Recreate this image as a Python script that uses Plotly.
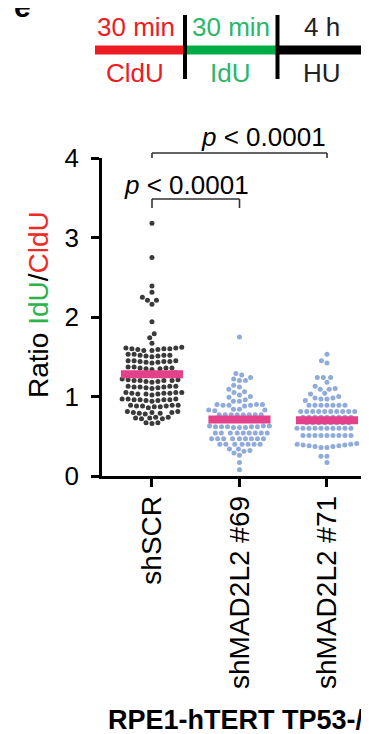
import math
import plotly.graph_objects as go

# ---------------- data ----------------
categories = ["shSCR", "shMAD2L2 #69", "shMAD2L2 #71"]

shSCR = [3.18, 2.75, 2.39, 2.31, 2.25, 2.21, 2.21, 2.16, 1.94, 1.79, 1.74, 1.67, 1.62,
         1.61, 1.60, 1.60, 1.59, 1.58, 1.60, 1.61, 1.59, 1.58,
         1.53, 1.52, 1.51, 1.52, 1.53, 1.51, 1.52, 1.50,
         1.45, 1.44, 1.43, 1.44, 1.45, 1.43, 1.44, 1.42, 1.45,
         1.37, 1.36, 1.35, 1.36, 1.37, 1.35, 1.36, 1.34,
         1.29, 1.28, 1.27, 1.28, 1.30, 1.26, 1.28, 1.29,
         1.21, 1.20, 1.19, 1.20, 1.21, 1.19, 1.20, 1.18, 1.22, 1.20,
         1.13, 1.12, 1.11, 1.12, 1.13, 1.11, 1.12, 1.10, 1.13,
         1.05, 1.04, 1.03, 1.04, 1.05, 1.03, 1.04, 1.02, 1.05, 1.03,
         0.97, 0.96, 0.95, 0.96, 0.97, 0.95, 0.96, 0.94, 0.97, 0.96,
         0.89, 0.88, 0.87, 0.88, 0.89, 0.87, 0.88, 0.86, 0.89,
         0.81, 0.80, 0.79, 0.80, 0.81, 0.79, 0.80, 0.78,
         0.74, 0.73, 0.72, 0.73, 0.74, 0.72,
         0.67, 0.67, 0.66]

shMAD2L2_69 = [1.75,
               1.29, 1.27, 1.24, 1.22, 1.20, 1.20,
               1.14, 1.12, 1.09, 1.06, 1.05,
               1.02, 1.00, 0.99, 0.96, 0.94, 0.94,
               0.90, 0.90, 0.90, 0.89, 0.89, 0.89, 0.88,
               0.84, 0.83, 0.83, 0.82, 0.84,
               0.77, 0.77, 0.77, 0.77, 0.77, 0.77, 0.77, 0.77,
               0.70, 0.70, 0.70, 0.70, 0.70, 0.70, 0.70, 0.70,
               0.63, 0.62, 0.62, 0.61, 0.61, 0.62, 0.62, 0.63, 0.63, 0.62, 0.61,
               0.54, 0.54, 0.54, 0.54, 0.54, 0.54, 0.54, 0.54, 0.54,
               0.47, 0.47, 0.47, 0.47, 0.47, 0.47, 0.47, 0.47, 0.47,
               0.40, 0.40, 0.40, 0.40, 0.40, 0.40, 0.40,
               0.34, 0.31, 0.29, 0.32, 0.34,
               0.26, 0.17, 0.08]

shMAD2L2_71 = [1.53, 1.45, 1.42,
               1.24, 1.24, 1.24, 1.18,
               1.13, 1.10, 1.09, 1.09, 1.04,
               1.03, 1.00, 0.98, 0.98, 0.97, 0.97, 0.95,
               0.89, 0.89, 0.89, 0.89, 0.89, 0.89, 0.89,
               0.81, 0.81, 0.81, 0.81, 0.81, 0.81, 0.81, 0.81, 0.81, 0.81,
               0.74, 0.74, 0.74, 0.74, 0.74, 0.74, 0.74, 0.74, 0.74,
               0.67, 0.67, 0.67, 0.67, 0.67, 0.67, 0.67, 0.67,
               0.60, 0.60, 0.60, 0.60, 0.60, 0.60, 0.60, 0.60, 0.60, 0.60,
               0.51, 0.51, 0.51, 0.51, 0.51, 0.51, 0.51, 0.51, 0.51,
               0.41, 0.40, 0.39, 0.38, 0.37, 0.36, 0.36, 0.37, 0.38, 0.39, 0.40,
               0.25, 0.25, 0.17]

means = [1.28, 0.71, 0.70]
group_values = [shSCR, shMAD2L2_69, shMAD2L2_71]
dot_colors = ["#3a3a3a", "#8fabdb", "#8fabdb"]
y_ticks = [0, 1, 2, 3, 4]

# ---------------- geometry (window pixels; page body has an 8px margin) ----------------
OFF = 8
W, H = 369, 734
L, R, T, B = 94, 8, 150, 266
PW, PH = W - L - R, H - T - B
YMAX = 4.0
X0 = -0.571
X1 = X0 + PW / 87.5
px_per_y = PH / YMAX
px_per_x = PW / (X1 - X0)


def px(xw):
    return (xw - OFF - L) / PW


def py(yw):
    return (H - B - (yw - OFF)) / PH


def swarm(vals, d=6.0):
    ys = [v * px_per_y for v in vals]
    order = sorted(range(len(vals)), key=lambda i: ys[i])
    placed = []
    off = [0.0] * len(vals)
    for i in order:
        y = ys[i]
        near = [(a, b) for (a, b) in placed if abs(b - y) < d]
        cands = [0.0]
        for a, b in near:
            dx = math.sqrt(max(d * d - (y - b) ** 2, 0))
            cands += [a + dx, a - dx]
        cands.sort(key=lambda c: (round(abs(c), 6), c))
        chosen = 0.0
        for c in cands:
            if all((c - a) ** 2 + (y - b) ** 2 >= d * d - 1e-6 for a, b in near):
                chosen = c
                break
        placed.append((chosen, y))
        off[i] = chosen
    return [o / px_per_x for o in off]


FONT = "Liberation Sans, Arial, sans-serif"
fig = go.Figure()

for gi, vals in enumerate(group_values):
    offs = swarm(vals)
    fig.add_trace(go.Scatter(
        x=[gi + o for o in offs], y=vals, mode="markers",
        marker=dict(size=5.0, color=dot_colors[gi], line=dict(width=0)),
        showlegend=False, hoverinfo="skip", cliponaxis=False))

for gi, m in enumerate(means):
    fig.add_trace(go.Scatter(
        x=[gi - 0.355, gi + 0.355], y=[m, m], mode="lines",
        line=dict(color="#e4418a", width=8), showlegend=False, hoverinfo="skip"))

shapes = []
annotations = []


def bracket(x_left, x_right, y_top, drop):
    c = "#333333"
    shapes.append(dict(type="line", xref="paper", yref="paper", x0=px(x_left), x1=px(x_right),
                       y0=py(y_top), y1=py(y_top), line=dict(color=c, width=1.6)))
    for xx in (x_left, x_right):
        shapes.append(dict(type="line", xref="paper", yref="paper", x0=px(xx), x1=px(xx),
                           y0=py(y_top), y1=py(y_top + drop), line=dict(color=c, width=1.6)))


bracket(152, 327, 153, 5)
bracket(152, 239.5, 199, 9)

ptxt = "<i>p</i> &lt; 0.0001"
annotations.append(dict(text=ptxt, xref="paper", yref="paper", x=px(263), y=py(137),
                        showarrow=False, font=dict(family=FONT, size=26, color="black"),
                        xanchor="center", yanchor="middle"))
annotations.append(dict(text=ptxt, xref="paper", yref="paper", x=px(186), y=py(185),
                        showarrow=False, font=dict(family=FONT, size=26, color="black"),
                        xanchor="center", yanchor="middle"))

# y-axis title
annotations.append(dict(
    text="Ratio <span style='color:#2db34a'>IdU</span>/<span style='color:#ee2a24'>CldU</span>",
    xref="paper", yref="paper", x=px(38), y=py(305), textangle=-90, showarrow=False,
    font=dict(family=FONT, size=28, color="black"), xanchor="center", yanchor="middle"))

# labelling schematic
RED, GREEN_L, GREEN_T = "#ed1c24", "#00ad45", "#2cb66a"
shapes.append(dict(type="line", xref="paper", yref="paper", x0=px(95), x1=px(184), y0=py(50), y1=py(50),
                   line=dict(color=RED, width=9)))
shapes.append(dict(type="line", xref="paper", yref="paper", x0=px(184), x1=px(277), y0=py(50), y1=py(50),
                   line=dict(color=GREEN_L, width=9)))
shapes.append(dict(type="line", xref="paper", yref="paper", x0=px(277), x1=px(372), y0=py(50), y1=py(50),
                   line=dict(color="black", width=9)))
for xx in (185, 277.5):
    shapes.append(dict(type="line", xref="paper", yref="paper", x0=px(xx), x1=px(xx), y0=py(15), y1=py(79),
                       line=dict(color="black", width=4)))

for txt, xc, yc, col in [("30 min", 136, 27, RED), ("30 min", 231, 27, GREEN_T), ("4 h", 322, 27, "#222222"),
                         ("CldU", 135, 73, RED), ("IdU", 230, 73, GREEN_T), ("HU", 322, 73, "#222222")]:
    annotations.append(dict(text=txt, xref="paper", yref="paper", x=px(xc), y=py(yc), showarrow=False,
                            font=dict(family=FONT, size=26, color=col), xanchor="center", yanchor="middle"))

# panel letter and bottom title
annotations.append(dict(text="<b>e</b>", xref="paper", yref="paper", x=px(12), y=py(6), showarrow=False,
                        font=dict(family=FONT, size=30, color="black"), xanchor="left", yanchor="middle"))
annotations.append(dict(text="<b>RPE1-hTERT TP53-/-</b>", xref="paper", yref="paper", x=px(106), y=py(720),
                        showarrow=False, font=dict(family=FONT, size=27, color="black"),
                        xanchor="left", yanchor="middle"))

fig.update_layout(
    width=W, height=H, margin=dict(l=L, r=R, t=T, b=B, autoexpand=False),
    paper_bgcolor="white", plot_bgcolor="white",
    shapes=shapes, annotations=annotations, showlegend=False,
    xaxis=dict(range=[X0, X1], tickvals=[0, 1, 2], ticktext=categories, tickangle=-90,
               showline=True, linecolor="black", linewidth=2.5, ticks="outside", ticklen=8,
               tickwidth=2.5, tickcolor="black", showgrid=False, zeroline=False,
               tickfont=dict(family=FONT, size=28, color="black"), ticklabelstandoff=-2),
    yaxis=dict(range=[0, YMAX], tickvals=y_ticks, showline=True, linecolor="black", linewidth=2.5,
               ticks="outside", ticklen=8, tickwidth=2.5, tickcolor="black", showgrid=False,
               zeroline=False, tickfont=dict(family=FONT, size=26, color="black"), ticklabelstandoff=7),
)

fig.write_html("out.html")
